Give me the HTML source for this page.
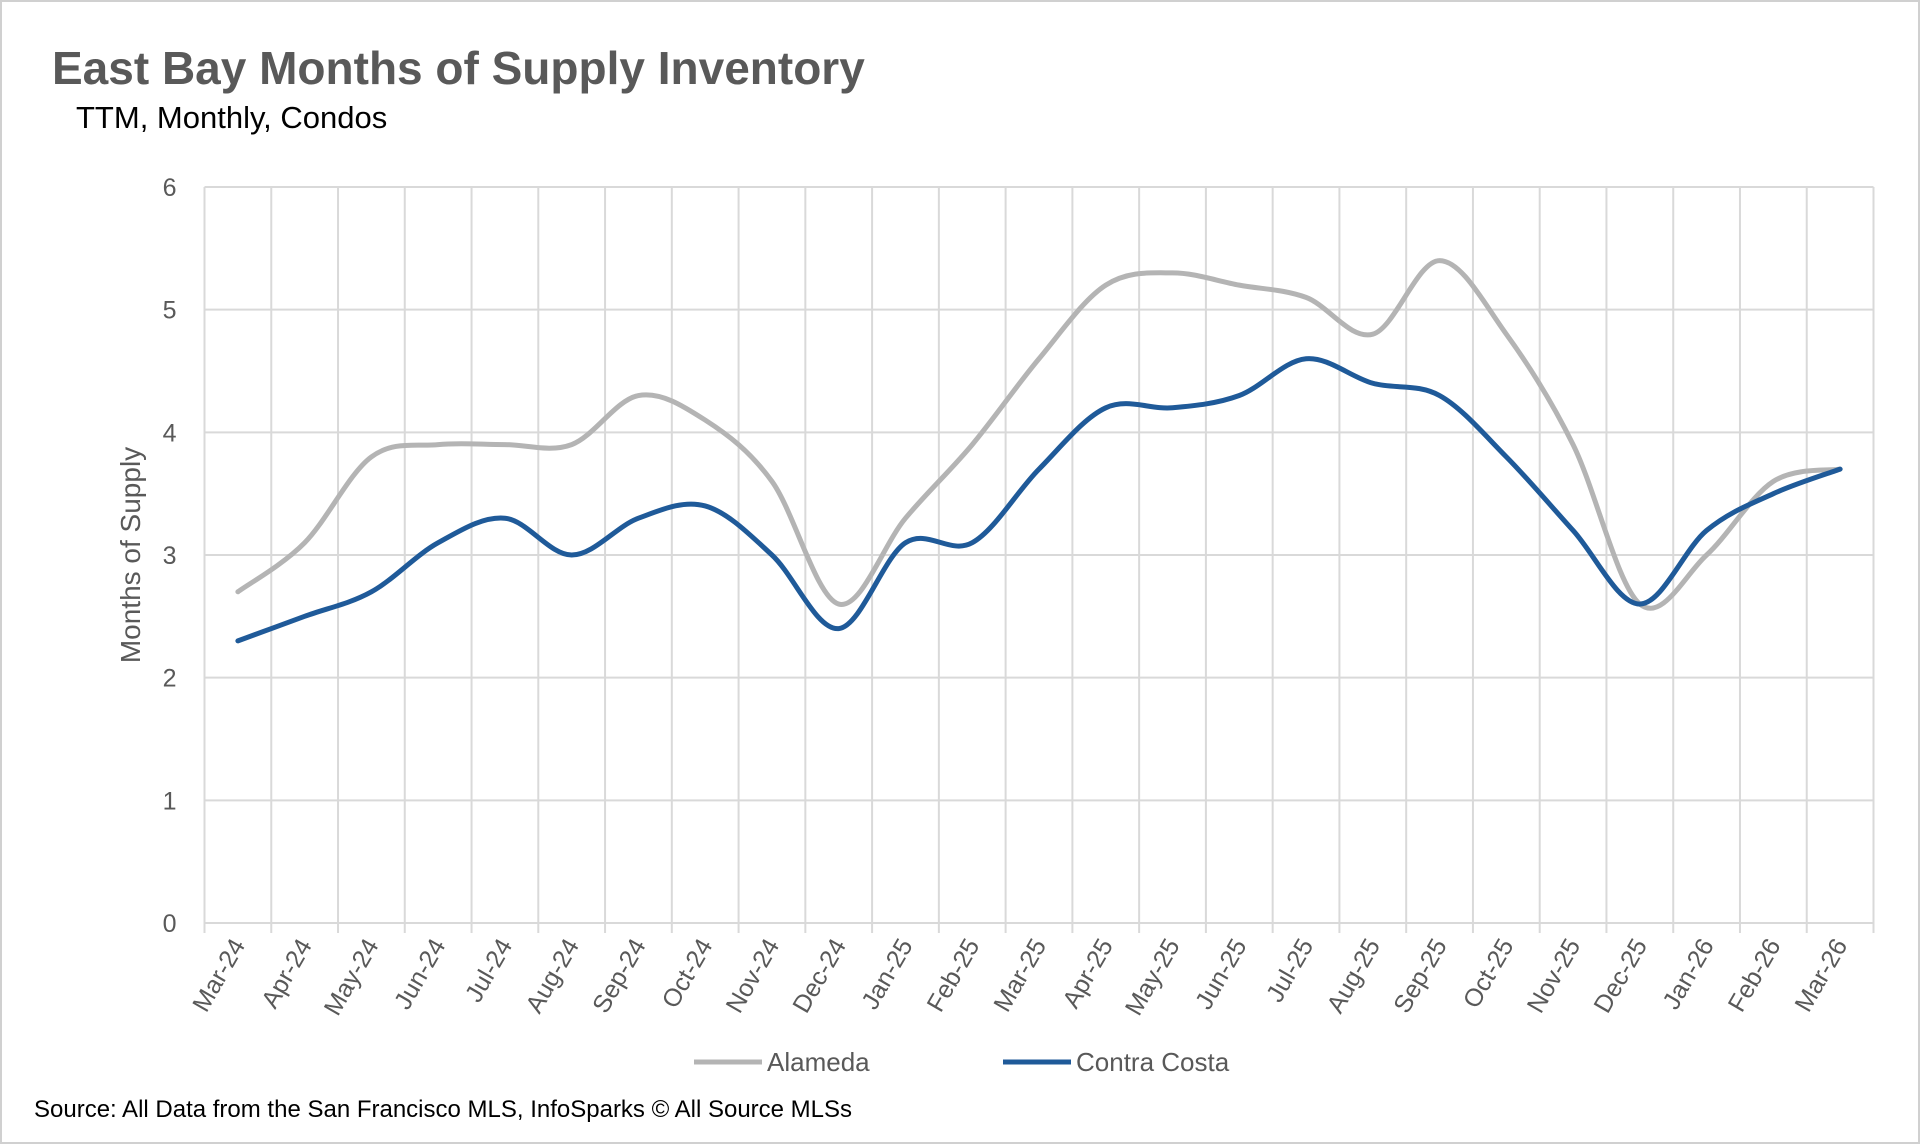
<!DOCTYPE html>
<html><head><meta charset="utf-8"><style>
html,body{margin:0;padding:0;background:#fff;}
svg{display:block;font-family:"Liberation Sans",sans-serif;}
</style></head><body>
<svg id="chart" width="1920" height="1144" viewBox="0 0 1920 1144" xmlns="http://www.w3.org/2000/svg">
<rect x="1" y="1" width="1918" height="1142" fill="#fff" stroke="#d0d0d0" stroke-width="2"/>
<text x="52" y="84" font-size="46" font-weight="bold" fill="#595959">East Bay Months of Supply Inventory</text>
<text x="76" y="128" font-size="31" fill="#000">TTM, Monthly, Condos</text>
<g id="grid"></g>
<g id="yticks"></g>
<g id="xticks"></g>
<g id="series"></g>
<text transform="translate(140,555) rotate(-90)" text-anchor="middle" font-size="28" fill="#595959">Months of Supply</text>
<g>
<line x1="694" y1="1062" x2="762" y2="1062" stroke="#b4b4b4" stroke-width="5"/>
<text x="767" y="1071" font-size="26" fill="#595959">Alameda</text>
<line x1="1003" y1="1062" x2="1071" y2="1062" stroke="#1f5a99" stroke-width="5"/>
<text x="1076" y="1071" font-size="26" fill="#595959">Contra Costa</text>
</g>
<text x="34" y="1117" font-size="24" fill="#000">Source: All Data from the San Francisco MLS, InfoSparks © All Source MLSs</text>
</svg>
<script>
const categories = ["Mar-24","Apr-24","May-24","Jun-24","Jul-24","Aug-24","Sep-24","Oct-24","Nov-24","Dec-24","Jan-25","Feb-25","Mar-25","Apr-25","May-25","Jun-25","Jul-25","Aug-25","Sep-25","Oct-25","Nov-25","Dec-25","Jan-26","Feb-26","Mar-26"];
const alameda = [2.7,3.1,3.8,3.9,3.9,3.9,4.3,4.1,3.6,2.6,3.3,3.9,4.6,5.2,5.3,5.2,5.1,4.8,5.4,4.8,3.9,2.6,3.0,3.6,3.7];
const contraCosta = [2.3,2.5,2.7,3.1,3.3,3.0,3.3,3.4,3.0,2.4,3.1,3.1,3.7,4.2,4.2,4.3,4.6,4.4,4.3,3.8,3.2,2.6,3.2,3.5,3.7];
const yTicks = [0,1,2,3,4,5,6];

const NS="http://www.w3.org/2000/svg";
const L=204.5,R=1873.5,T=187,B=923,YMAX=6;
const bw=(R-L)/categories.length;
function xPos(i){return L+bw*(i+0.5);}
function yPos(v){return B-(v/YMAX)*(B-T);}
function mk(tag,attrs,parent){const e=document.createElementNS(NS,tag);for(const k in attrs)e.setAttribute(k,attrs[k]);parent.appendChild(e);return e;}
const grid=document.getElementById('grid'),yt=document.getElementById('yticks'),xt=document.getElementById('xticks'),ser=document.getElementById('series');
yTicks.forEach(v=>{
  const ln=mk('line',{x1:L,x2:R,y1:yPos(v),y2:yPos(v),stroke:'#d9d9d9','stroke-width':2},grid);
  
  
  const t=mk('text',{x:L-28,y:yPos(v)+9,'text-anchor':'end','font-size':25,fill:'#595959'},yt);
  t.textContent=v;
  
  
});
for(let i=0;i<=categories.length;i++){
  const x=L+bw*i;
  const ln=mk('line',{x1:x,x2:x,y1:T,y2:B+10,stroke:'#d9d9d9','stroke-width':2},grid);
  
  
}
categories.forEach((c,i)=>{
  const x=xPos(i)+8,y=B+22;
  const t=mk('text',{x:x,y:y,'text-anchor':'end','font-size':25,fill:'#595959',transform:`rotate(-60 ${x} ${y})`},xt);
  t.textContent=c;
  
  
});
function smoothPath(vals){
  const p=vals.map((v,i)=>[xPos(i),yPos(v)]);
  let d=`M${p[0][0]},${p[0][1]}`;
  for(let i=0;i<p.length-1;i++){
    const p0=p[i-1]||p[i],p1=p[i],p2=p[i+1],p3=p[i+2]||p2;
    const c1=[p1[0]+(p2[0]-p0[0])/6,p1[1]+(p2[1]-p0[1])/6];
    const c2=[p2[0]-(p3[0]-p1[0])/6,p2[1]-(p3[1]-p1[1])/6];
    d+=` C${c1[0]},${c1[1]} ${c2[0]},${c2[1]} ${p2[0]},${p2[1]}`;
  }
  return d;
}
const a=mk('path',{d:smoothPath(alameda),fill:'none',stroke:'#b4b4b4','stroke-width':5,'stroke-linecap':'round'},ser);


const c=mk('path',{d:smoothPath(contraCosta),fill:'none',stroke:'#1f5a99','stroke-width':5,'stroke-linecap':'round'},ser);


</script>
</body></html>
